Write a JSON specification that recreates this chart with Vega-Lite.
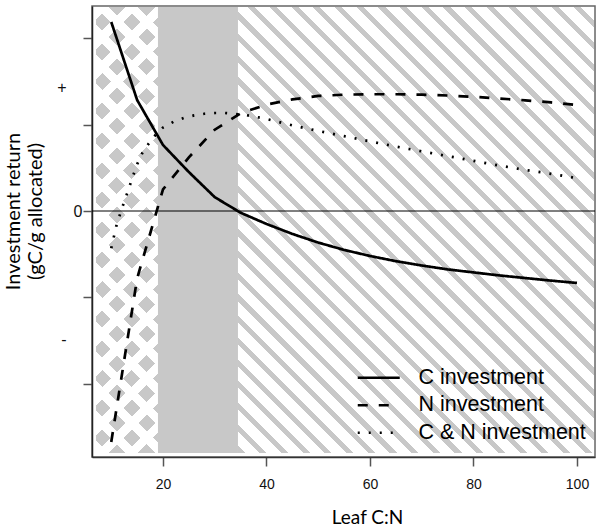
{
  "$schema": "https://vega.github.io/schema/vega-lite/v6.json",
  "width": 503,
  "height": 451,
  "autosize": {"type": "none"},
  "padding": {"left": 92, "top": 6, "right": 1, "bottom": 69},
  "background": "white",
  "config": {
    "view": {"stroke": "#666666", "strokeWidth": 1.5},
    "axis": {"grid": false}
  },
  "datasets": {
    "zones": [
      {"zone": "checker", "x0": 7.05, "x1": 19.03, "y0": -2.798, "y1": 2.358},
      {"zone": "solid", "x0": 19.03, "x1": 34.49, "y0": -2.798, "y1": 2.358},
      {"zone": "hatch", "x0": 34.49, "x1": 103.29, "y0": -2.798, "y1": 2.358}
    ],
    "zero": [{"level": 0}],
    "curves": [
      {"x": 10, "y": 2.185, "s": "C investment"},
      {"x": 15, "y": 1.283, "s": "C investment"},
      {"x": 20, "y": 0.763, "s": "C investment"},
      {"x": 25, "y": 0.45, "s": "C investment"},
      {"x": 30, "y": 0.16, "s": "C investment"},
      {"x": 35, "y": -0.02, "s": "C investment"},
      {"x": 40, "y": -0.15, "s": "C investment"},
      {"x": 45, "y": -0.265, "s": "C investment"},
      {"x": 50, "y": -0.365, "s": "C investment"},
      {"x": 55, "y": -0.45, "s": "C investment"},
      {"x": 60, "y": -0.52, "s": "C investment"},
      {"x": 65, "y": -0.58, "s": "C investment"},
      {"x": 70, "y": -0.63, "s": "C investment"},
      {"x": 75, "y": -0.675, "s": "C investment"},
      {"x": 80, "y": -0.71, "s": "C investment"},
      {"x": 85, "y": -0.745, "s": "C investment"},
      {"x": 90, "y": -0.775, "s": "C investment"},
      {"x": 95, "y": -0.805, "s": "C investment"},
      {"x": 100, "y": -0.832, "s": "C investment"},
      {"x": 10, "y": -2.67, "s": "N investment"},
      {"x": 15, "y": -0.78, "s": "N investment"},
      {"x": 20, "y": 0.25, "s": "N investment"},
      {"x": 25, "y": 0.62, "s": "N investment"},
      {"x": 30, "y": 0.94, "s": "N investment"},
      {"x": 35, "y": 1.13, "s": "N investment"},
      {"x": 40, "y": 1.23, "s": "N investment"},
      {"x": 45, "y": 1.29, "s": "N investment"},
      {"x": 50, "y": 1.33, "s": "N investment"},
      {"x": 55, "y": 1.345, "s": "N investment"},
      {"x": 60, "y": 1.35, "s": "N investment"},
      {"x": 65, "y": 1.35, "s": "N investment"},
      {"x": 70, "y": 1.345, "s": "N investment"},
      {"x": 75, "y": 1.335, "s": "N investment"},
      {"x": 80, "y": 1.32, "s": "N investment"},
      {"x": 85, "y": 1.3, "s": "N investment"},
      {"x": 90, "y": 1.28, "s": "N investment"},
      {"x": 95, "y": 1.255, "s": "N investment"},
      {"x": 100, "y": 1.225, "s": "N investment"},
      {"x": 10, "y": -0.43, "s": "C & N investment"},
      {"x": 11, "y": -0.17, "s": "C & N investment"},
      {"x": 12, "y": 0.02, "s": "C & N investment"},
      {"x": 13, "y": 0.19, "s": "C & N investment"},
      {"x": 14, "y": 0.37, "s": "C & N investment"},
      {"x": 15, "y": 0.54, "s": "C & N investment"},
      {"x": 16, "y": 0.67, "s": "C & N investment"},
      {"x": 17, "y": 0.76, "s": "C & N investment"},
      {"x": 18, "y": 0.84, "s": "C & N investment"},
      {"x": 19, "y": 0.91, "s": "C & N investment"},
      {"x": 20, "y": 0.965, "s": "C & N investment"},
      {"x": 22, "y": 1.03, "s": "C & N investment"},
      {"x": 24, "y": 1.075, "s": "C & N investment"},
      {"x": 26, "y": 1.105, "s": "C & N investment"},
      {"x": 28, "y": 1.124, "s": "C & N investment"},
      {"x": 30, "y": 1.133, "s": "C & N investment"},
      {"x": 32, "y": 1.133, "s": "C & N investment"},
      {"x": 34, "y": 1.121, "s": "C & N investment"},
      {"x": 36, "y": 1.11, "s": "C & N investment"},
      {"x": 38, "y": 1.087, "s": "C & N investment"},
      {"x": 40, "y": 1.064, "s": "C & N investment"},
      {"x": 45, "y": 0.99, "s": "C & N investment"},
      {"x": 50, "y": 0.925, "s": "C & N investment"},
      {"x": 55, "y": 0.865, "s": "C & N investment"},
      {"x": 60, "y": 0.805, "s": "C & N investment"},
      {"x": 65, "y": 0.745, "s": "C & N investment"},
      {"x": 70, "y": 0.69, "s": "C & N investment"},
      {"x": 75, "y": 0.635, "s": "C & N investment"},
      {"x": 80, "y": 0.58, "s": "C & N investment"},
      {"x": 85, "y": 0.525, "s": "C & N investment"},
      {"x": 90, "y": 0.475, "s": "C & N investment"},
      {"x": 95, "y": 0.43, "s": "C & N investment"},
      {"x": 100, "y": 0.38, "s": "C & N investment"}
    ]
  },
  "layer": [
    {
      "data": {"name": "zones"},
      "transform": [{"filter": "datum.zone == 'checker'"}],
      "mark": {"type": "rect", "fill": "#c8c8c8"},
      "encoding": {
        "x": {
          "field": "x0", "type": "quantitative",
          "scale": {"domain": [6.28, 103.48], "nice": false, "zero": false},
          "axis": {
            "values": [20, 40, 60, 80, 100],
            "title": "Leaf C:N",
            "domainColor": "#333333", "domainWidth": 1.5,
            "tickColor": "#555555", "tickWidth": 1.5, "tickSize": 9,
            "labelFont": "Liberation Sans, Arial, sans-serif", "labelFontSize": 14, "labelColor": "#111111",
            "labelPadding": 11, "labelFlush": false,
            "titleFont": "Lato", "titleFontSize": 19, "titleFontWeight": "normal", "titleColor": "#000000",
            "titleX": 275, "titleY": 66, "titleAlign": "center", "titleBaseline": "alphabetic"
          }
        },
        "x2": {"field": "x1"},
        "y": {
          "field": "y0", "type": "quantitative",
          "scale": {"domain": [-2.844, 2.37], "nice": false, "zero": false},
          "axis": {
            "values": [-2, -1.48, -1, 0, 1, 1.43, 2],
            "labelExpr": "datum.value == 1.43 ? '+' : (datum.value == -1.48 ? '-' : (datum.value == 0 ? '0' : ''))",
            "tickOpacity": {"condition": {"test": "datum.value == 1.43 || datum.value == -1.48", "value": 0}, "value": 1},
            "labelPadding": {"condition": {"test": "datum.value == 1.43 || datum.value == -1.48", "value": 17}, "value": 1},
            "domainColor": "#222222", "domainWidth": 1.5,
            "tickColor": "#555555", "tickWidth": 1.5, "tickSize": 9,
            "labelFont": "Liberation Sans, Arial, sans-serif", "labelFontSize": 16, "labelColor": "#111111",
            "labelOverlap": false, "labelBound": false,
            "title": ["Investment return", "(gC/g allocated)"],
            "titleFont": "Lato", "titleFontSize": 20, "titleFontWeight": "normal", "titleColor": "#000000",
            "titleAngle": -90, "titleX": -73, "titleY": 205, "titleAlign": "center", "titleBaseline": "alphabetic",
            "titleLineHeight": 22
          }
        },
        "y2": {"field": "y1"}
      }
    },
    {
      "data": {"name": "zones"},
      "transform": [{"filter": "datum.zone == 'checker'"}],
      "mark": {"type": "rect", "fill": {"gradient": "linear", "x1": 0, "y1": 1, "x2": 0.18163, "y2": -0.3066, "stops": [
        {"offset": 0, "color": "#ffffff"}, {"offset": 0.02143, "color": "#ffffff"}, {"offset": 0.02143, "color": "rgba(255,255,255,0)"}, {"offset": 0.05, "color": "rgba(255,255,255,0)"},
        {"offset": 0.05, "color": "#ffffff"}, {"offset": 0.07143, "color": "#ffffff"}, {"offset": 0.07143, "color": "rgba(255,255,255,0)"}, {"offset": 0.1, "color": "rgba(255,255,255,0)"},
        {"offset": 0.1, "color": "#ffffff"}, {"offset": 0.12143, "color": "#ffffff"}, {"offset": 0.12143, "color": "rgba(255,255,255,0)"}, {"offset": 0.15, "color": "rgba(255,255,255,0)"},
        {"offset": 0.15, "color": "#ffffff"}, {"offset": 0.17143, "color": "#ffffff"}, {"offset": 0.17143, "color": "rgba(255,255,255,0)"}, {"offset": 0.2, "color": "rgba(255,255,255,0)"},
        {"offset": 0.2, "color": "#ffffff"}, {"offset": 0.22143, "color": "#ffffff"}, {"offset": 0.22143, "color": "rgba(255,255,255,0)"}, {"offset": 0.25, "color": "rgba(255,255,255,0)"},
        {"offset": 0.25, "color": "#ffffff"}, {"offset": 0.27143, "color": "#ffffff"}, {"offset": 0.27143, "color": "rgba(255,255,255,0)"}, {"offset": 0.3, "color": "rgba(255,255,255,0)"},
        {"offset": 0.3, "color": "#ffffff"}, {"offset": 0.32143, "color": "#ffffff"}, {"offset": 0.32143, "color": "rgba(255,255,255,0)"}, {"offset": 0.35, "color": "rgba(255,255,255,0)"},
        {"offset": 0.35, "color": "#ffffff"}, {"offset": 0.37143, "color": "#ffffff"}, {"offset": 0.37143, "color": "rgba(255,255,255,0)"}, {"offset": 0.4, "color": "rgba(255,255,255,0)"},
        {"offset": 0.4, "color": "#ffffff"}, {"offset": 0.42143, "color": "#ffffff"}, {"offset": 0.42143, "color": "rgba(255,255,255,0)"}, {"offset": 0.45, "color": "rgba(255,255,255,0)"},
        {"offset": 0.45, "color": "#ffffff"}, {"offset": 0.47143, "color": "#ffffff"}, {"offset": 0.47143, "color": "rgba(255,255,255,0)"}, {"offset": 0.5, "color": "rgba(255,255,255,0)"},
        {"offset": 0.5, "color": "#ffffff"}, {"offset": 0.52143, "color": "#ffffff"}, {"offset": 0.52143, "color": "rgba(255,255,255,0)"}, {"offset": 0.55, "color": "rgba(255,255,255,0)"},
        {"offset": 0.55, "color": "#ffffff"}, {"offset": 0.57143, "color": "#ffffff"}, {"offset": 0.57143, "color": "rgba(255,255,255,0)"}, {"offset": 0.6, "color": "rgba(255,255,255,0)"},
        {"offset": 0.6, "color": "#ffffff"}, {"offset": 0.62143, "color": "#ffffff"}, {"offset": 0.62143, "color": "rgba(255,255,255,0)"}, {"offset": 0.65, "color": "rgba(255,255,255,0)"},
        {"offset": 0.65, "color": "#ffffff"}, {"offset": 0.67143, "color": "#ffffff"}, {"offset": 0.67143, "color": "rgba(255,255,255,0)"}, {"offset": 0.7, "color": "rgba(255,255,255,0)"},
        {"offset": 0.7, "color": "#ffffff"}, {"offset": 0.72143, "color": "#ffffff"}, {"offset": 0.72143, "color": "rgba(255,255,255,0)"}, {"offset": 0.75, "color": "rgba(255,255,255,0)"},
        {"offset": 0.75, "color": "#ffffff"}, {"offset": 0.77143, "color": "#ffffff"}, {"offset": 0.77143, "color": "rgba(255,255,255,0)"}, {"offset": 0.8, "color": "rgba(255,255,255,0)"},
        {"offset": 0.8, "color": "#ffffff"}, {"offset": 0.82143, "color": "#ffffff"}, {"offset": 0.82143, "color": "rgba(255,255,255,0)"}, {"offset": 0.85, "color": "rgba(255,255,255,0)"},
        {"offset": 0.85, "color": "#ffffff"}, {"offset": 0.87143, "color": "#ffffff"}, {"offset": 0.87143, "color": "rgba(255,255,255,0)"}, {"offset": 0.9, "color": "rgba(255,255,255,0)"}
      ]}},
      "encoding": {
        "x": {"field": "x0", "type": "quantitative", "scale": {"domain": [6.28, 103.48], "nice": false, "zero": false}},
        "x2": {"field": "x1"},
        "y": {"field": "y0", "type": "quantitative", "scale": {"domain": [-2.844, 2.37], "nice": false, "zero": false}},
        "y2": {"field": "y1"}
      }
    },
    {
      "data": {"name": "zones"},
      "transform": [{"filter": "datum.zone == 'checker'"}],
      "mark": {"type": "rect", "fill": {"gradient": "linear", "x1": 0, "y1": 0, "x2": 0.18163, "y2": 1.3066, "stops": [
        {"offset": 0, "color": "#ffffff"}, {"offset": 0.02143, "color": "#ffffff"}, {"offset": 0.02143, "color": "rgba(255,255,255,0)"}, {"offset": 0.05, "color": "rgba(255,255,255,0)"},
        {"offset": 0.05, "color": "#ffffff"}, {"offset": 0.07143, "color": "#ffffff"}, {"offset": 0.07143, "color": "rgba(255,255,255,0)"}, {"offset": 0.1, "color": "rgba(255,255,255,0)"},
        {"offset": 0.1, "color": "#ffffff"}, {"offset": 0.12143, "color": "#ffffff"}, {"offset": 0.12143, "color": "rgba(255,255,255,0)"}, {"offset": 0.15, "color": "rgba(255,255,255,0)"},
        {"offset": 0.15, "color": "#ffffff"}, {"offset": 0.17143, "color": "#ffffff"}, {"offset": 0.17143, "color": "rgba(255,255,255,0)"}, {"offset": 0.2, "color": "rgba(255,255,255,0)"},
        {"offset": 0.2, "color": "#ffffff"}, {"offset": 0.22143, "color": "#ffffff"}, {"offset": 0.22143, "color": "rgba(255,255,255,0)"}, {"offset": 0.25, "color": "rgba(255,255,255,0)"},
        {"offset": 0.25, "color": "#ffffff"}, {"offset": 0.27143, "color": "#ffffff"}, {"offset": 0.27143, "color": "rgba(255,255,255,0)"}, {"offset": 0.3, "color": "rgba(255,255,255,0)"},
        {"offset": 0.3, "color": "#ffffff"}, {"offset": 0.32143, "color": "#ffffff"}, {"offset": 0.32143, "color": "rgba(255,255,255,0)"}, {"offset": 0.35, "color": "rgba(255,255,255,0)"},
        {"offset": 0.35, "color": "#ffffff"}, {"offset": 0.37143, "color": "#ffffff"}, {"offset": 0.37143, "color": "rgba(255,255,255,0)"}, {"offset": 0.4, "color": "rgba(255,255,255,0)"},
        {"offset": 0.4, "color": "#ffffff"}, {"offset": 0.42143, "color": "#ffffff"}, {"offset": 0.42143, "color": "rgba(255,255,255,0)"}, {"offset": 0.45, "color": "rgba(255,255,255,0)"},
        {"offset": 0.45, "color": "#ffffff"}, {"offset": 0.47143, "color": "#ffffff"}, {"offset": 0.47143, "color": "rgba(255,255,255,0)"}, {"offset": 0.5, "color": "rgba(255,255,255,0)"},
        {"offset": 0.5, "color": "#ffffff"}, {"offset": 0.52143, "color": "#ffffff"}, {"offset": 0.52143, "color": "rgba(255,255,255,0)"}, {"offset": 0.55, "color": "rgba(255,255,255,0)"},
        {"offset": 0.55, "color": "#ffffff"}, {"offset": 0.57143, "color": "#ffffff"}, {"offset": 0.57143, "color": "rgba(255,255,255,0)"}, {"offset": 0.6, "color": "rgba(255,255,255,0)"},
        {"offset": 0.6, "color": "#ffffff"}, {"offset": 0.62143, "color": "#ffffff"}, {"offset": 0.62143, "color": "rgba(255,255,255,0)"}, {"offset": 0.65, "color": "rgba(255,255,255,0)"},
        {"offset": 0.65, "color": "#ffffff"}, {"offset": 0.67143, "color": "#ffffff"}, {"offset": 0.67143, "color": "rgba(255,255,255,0)"}, {"offset": 0.7, "color": "rgba(255,255,255,0)"},
        {"offset": 0.7, "color": "#ffffff"}, {"offset": 0.72143, "color": "#ffffff"}, {"offset": 0.72143, "color": "rgba(255,255,255,0)"}, {"offset": 0.75, "color": "rgba(255,255,255,0)"},
        {"offset": 0.75, "color": "#ffffff"}, {"offset": 0.77143, "color": "#ffffff"}, {"offset": 0.77143, "color": "rgba(255,255,255,0)"}, {"offset": 0.8, "color": "rgba(255,255,255,0)"},
        {"offset": 0.8, "color": "#ffffff"}, {"offset": 0.82143, "color": "#ffffff"}, {"offset": 0.82143, "color": "rgba(255,255,255,0)"}, {"offset": 0.85, "color": "rgba(255,255,255,0)"},
        {"offset": 0.85, "color": "#ffffff"}, {"offset": 0.87143, "color": "#ffffff"}, {"offset": 0.87143, "color": "rgba(255,255,255,0)"}, {"offset": 0.9, "color": "rgba(255,255,255,0)"}
      ]}},
      "encoding": {
        "x": {"field": "x0", "type": "quantitative", "scale": {"domain": [6.28, 103.48], "nice": false, "zero": false}},
        "x2": {"field": "x1"},
        "y": {"field": "y0", "type": "quantitative", "scale": {"domain": [-2.844, 2.37], "nice": false, "zero": false}},
        "y2": {"field": "y1"}
      }
    },
    {
      "data": {"name": "zones"},
      "transform": [{"filter": "datum.zone == 'solid'"}],
      "mark": {"type": "rect", "fill": "#c8c8c8"},
      "encoding": {
        "x": {"field": "x0", "type": "quantitative", "scale": {"domain": [6.28, 103.48], "nice": false, "zero": false}},
        "x2": {"field": "x1"},
        "y": {"field": "y0", "type": "quantitative", "scale": {"domain": [-2.844, 2.37], "nice": false, "zero": false}},
        "y2": {"field": "y1"}
      }
    },
    {
      "data": {"name": "zones"},
      "transform": [{"filter": "datum.zone == 'hatch'"}],
      "mark": {"type": "rect", "fill": {"gradient": "linear", "x1": 0, "y1": 1, "x2": 0.9489, "y2": -0.18878, "stops": [
        {"offset": 0, "color": "#c8c8c8"}, {"offset": 0.00825, "color": "#c8c8c8"}, {"offset": 0.00825, "color": "#ffffff"}, {"offset": 0.025, "color": "#ffffff"},
        {"offset": 0.025, "color": "#c8c8c8"}, {"offset": 0.03325, "color": "#c8c8c8"}, {"offset": 0.03325, "color": "#ffffff"}, {"offset": 0.05, "color": "#ffffff"},
        {"offset": 0.05, "color": "#c8c8c8"}, {"offset": 0.05825, "color": "#c8c8c8"}, {"offset": 0.05825, "color": "#ffffff"}, {"offset": 0.075, "color": "#ffffff"},
        {"offset": 0.075, "color": "#c8c8c8"}, {"offset": 0.08325, "color": "#c8c8c8"}, {"offset": 0.08325, "color": "#ffffff"}, {"offset": 0.1, "color": "#ffffff"},
        {"offset": 0.1, "color": "#c8c8c8"}, {"offset": 0.10825, "color": "#c8c8c8"}, {"offset": 0.10825, "color": "#ffffff"}, {"offset": 0.125, "color": "#ffffff"},
        {"offset": 0.125, "color": "#c8c8c8"}, {"offset": 0.13325, "color": "#c8c8c8"}, {"offset": 0.13325, "color": "#ffffff"}, {"offset": 0.15, "color": "#ffffff"},
        {"offset": 0.15, "color": "#c8c8c8"}, {"offset": 0.15825, "color": "#c8c8c8"}, {"offset": 0.15825, "color": "#ffffff"}, {"offset": 0.175, "color": "#ffffff"},
        {"offset": 0.175, "color": "#c8c8c8"}, {"offset": 0.18325, "color": "#c8c8c8"}, {"offset": 0.18325, "color": "#ffffff"}, {"offset": 0.2, "color": "#ffffff"},
        {"offset": 0.2, "color": "#c8c8c8"}, {"offset": 0.20825, "color": "#c8c8c8"}, {"offset": 0.20825, "color": "#ffffff"}, {"offset": 0.225, "color": "#ffffff"},
        {"offset": 0.225, "color": "#c8c8c8"}, {"offset": 0.23325, "color": "#c8c8c8"}, {"offset": 0.23325, "color": "#ffffff"}, {"offset": 0.25, "color": "#ffffff"},
        {"offset": 0.25, "color": "#c8c8c8"}, {"offset": 0.25825, "color": "#c8c8c8"}, {"offset": 0.25825, "color": "#ffffff"}, {"offset": 0.275, "color": "#ffffff"},
        {"offset": 0.275, "color": "#c8c8c8"}, {"offset": 0.28325, "color": "#c8c8c8"}, {"offset": 0.28325, "color": "#ffffff"}, {"offset": 0.3, "color": "#ffffff"},
        {"offset": 0.3, "color": "#c8c8c8"}, {"offset": 0.30825, "color": "#c8c8c8"}, {"offset": 0.30825, "color": "#ffffff"}, {"offset": 0.325, "color": "#ffffff"},
        {"offset": 0.325, "color": "#c8c8c8"}, {"offset": 0.33325, "color": "#c8c8c8"}, {"offset": 0.33325, "color": "#ffffff"}, {"offset": 0.35, "color": "#ffffff"},
        {"offset": 0.35, "color": "#c8c8c8"}, {"offset": 0.35825, "color": "#c8c8c8"}, {"offset": 0.35825, "color": "#ffffff"}, {"offset": 0.375, "color": "#ffffff"},
        {"offset": 0.375, "color": "#c8c8c8"}, {"offset": 0.38325, "color": "#c8c8c8"}, {"offset": 0.38325, "color": "#ffffff"}, {"offset": 0.4, "color": "#ffffff"},
        {"offset": 0.4, "color": "#c8c8c8"}, {"offset": 0.40825, "color": "#c8c8c8"}, {"offset": 0.40825, "color": "#ffffff"}, {"offset": 0.425, "color": "#ffffff"},
        {"offset": 0.425, "color": "#c8c8c8"}, {"offset": 0.43325, "color": "#c8c8c8"}, {"offset": 0.43325, "color": "#ffffff"}, {"offset": 0.45, "color": "#ffffff"},
        {"offset": 0.45, "color": "#c8c8c8"}, {"offset": 0.45825, "color": "#c8c8c8"}, {"offset": 0.45825, "color": "#ffffff"}, {"offset": 0.475, "color": "#ffffff"},
        {"offset": 0.475, "color": "#c8c8c8"}, {"offset": 0.48325, "color": "#c8c8c8"}, {"offset": 0.48325, "color": "#ffffff"}, {"offset": 0.5, "color": "#ffffff"},
        {"offset": 0.5, "color": "#c8c8c8"}, {"offset": 0.50825, "color": "#c8c8c8"}, {"offset": 0.50825, "color": "#ffffff"}, {"offset": 0.525, "color": "#ffffff"},
        {"offset": 0.525, "color": "#c8c8c8"}, {"offset": 0.53325, "color": "#c8c8c8"}, {"offset": 0.53325, "color": "#ffffff"}, {"offset": 0.55, "color": "#ffffff"},
        {"offset": 0.55, "color": "#c8c8c8"}, {"offset": 0.55825, "color": "#c8c8c8"}, {"offset": 0.55825, "color": "#ffffff"}, {"offset": 0.575, "color": "#ffffff"},
        {"offset": 0.575, "color": "#c8c8c8"}, {"offset": 0.58325, "color": "#c8c8c8"}, {"offset": 0.58325, "color": "#ffffff"}, {"offset": 0.6, "color": "#ffffff"},
        {"offset": 0.6, "color": "#c8c8c8"}, {"offset": 0.60825, "color": "#c8c8c8"}, {"offset": 0.60825, "color": "#ffffff"}, {"offset": 0.625, "color": "#ffffff"},
        {"offset": 0.625, "color": "#c8c8c8"}, {"offset": 0.63325, "color": "#c8c8c8"}, {"offset": 0.63325, "color": "#ffffff"}, {"offset": 0.65, "color": "#ffffff"},
        {"offset": 0.65, "color": "#c8c8c8"}, {"offset": 0.65825, "color": "#c8c8c8"}, {"offset": 0.65825, "color": "#ffffff"}, {"offset": 0.675, "color": "#ffffff"},
        {"offset": 0.675, "color": "#c8c8c8"}, {"offset": 0.68325, "color": "#c8c8c8"}, {"offset": 0.68325, "color": "#ffffff"}, {"offset": 0.7, "color": "#ffffff"},
        {"offset": 0.7, "color": "#c8c8c8"}, {"offset": 0.70825, "color": "#c8c8c8"}, {"offset": 0.70825, "color": "#ffffff"}, {"offset": 0.725, "color": "#ffffff"},
        {"offset": 0.725, "color": "#c8c8c8"}, {"offset": 0.73325, "color": "#c8c8c8"}, {"offset": 0.73325, "color": "#ffffff"}, {"offset": 0.75, "color": "#ffffff"},
        {"offset": 0.75, "color": "#c8c8c8"}, {"offset": 0.75825, "color": "#c8c8c8"}, {"offset": 0.75825, "color": "#ffffff"}, {"offset": 0.775, "color": "#ffffff"},
        {"offset": 0.775, "color": "#c8c8c8"}, {"offset": 0.78325, "color": "#c8c8c8"}, {"offset": 0.78325, "color": "#ffffff"}, {"offset": 0.8, "color": "#ffffff"},
        {"offset": 0.8, "color": "#c8c8c8"}, {"offset": 0.80825, "color": "#c8c8c8"}, {"offset": 0.80825, "color": "#ffffff"}, {"offset": 0.825, "color": "#ffffff"},
        {"offset": 0.825, "color": "#c8c8c8"}, {"offset": 0.83325, "color": "#c8c8c8"}, {"offset": 0.83325, "color": "#ffffff"}, {"offset": 0.85, "color": "#ffffff"},
        {"offset": 0.85, "color": "#c8c8c8"}, {"offset": 0.85825, "color": "#c8c8c8"}, {"offset": 0.85825, "color": "#ffffff"}, {"offset": 0.875, "color": "#ffffff"},
        {"offset": 0.875, "color": "#c8c8c8"}, {"offset": 0.88325, "color": "#c8c8c8"}, {"offset": 0.88325, "color": "#ffffff"}, {"offset": 0.9, "color": "#ffffff"},
        {"offset": 0.9, "color": "#c8c8c8"}, {"offset": 0.90825, "color": "#c8c8c8"}, {"offset": 0.90825, "color": "#ffffff"}, {"offset": 0.925, "color": "#ffffff"}
      ]}},
      "encoding": {
        "x": {"field": "x0", "type": "quantitative", "scale": {"domain": [6.28, 103.48], "nice": false, "zero": false}},
        "x2": {"field": "x1"},
        "y": {"field": "y0", "type": "quantitative", "scale": {"domain": [-2.844, 2.37], "nice": false, "zero": false}},
        "y2": {"field": "y1"}
      }
    },
    {
      "data": {"name": "zero"},
      "mark": {"type": "rule", "color": "#000000", "strokeWidth": 1},
      "encoding": {
        "y": {"field": "level", "type": "quantitative", "scale": {"domain": [-2.844, 2.37], "nice": false, "zero": false}}
      }
    },
    {
      "data": {"name": "curves"},
      "mark": {"type": "line", "color": "#000000", "strokeWidth": 2.7, "strokeCap": "butt", "interpolate": "linear"},
      "encoding": {
        "x": {"field": "x", "type": "quantitative", "scale": {"domain": [6.28, 103.48], "nice": false, "zero": false}},
        "y": {"field": "y", "type": "quantitative", "scale": {"domain": [-2.844, 2.37], "nice": false, "zero": false}},
        "strokeDash": {
          "field": "s", "type": "nominal",
          "scale": {"domain": ["C investment", "N investment", "C & N investment"], "range": [[1, 0], [10, 11], [2, 9]]},
          "legend": {
            "orient": "none", "legendX": 276, "legendY": 361, "title": null, "padding": 0,
            "symbolType": "M-3,0H3", "symbolSize": 196, "symbolStrokeWidth": 2.7, "symbolStrokeColor": "#000000",
            "symbolFillColor": "transparent",
            "labelFont": "Liberation Sans, Arial, sans-serif", "labelFontSize": 21.5, "labelColor": "#000000", "labelOffset": 29,
            "labelLimit": 300, "rowPadding": 4.5
          }
        }
      }
    }
  ]
}
